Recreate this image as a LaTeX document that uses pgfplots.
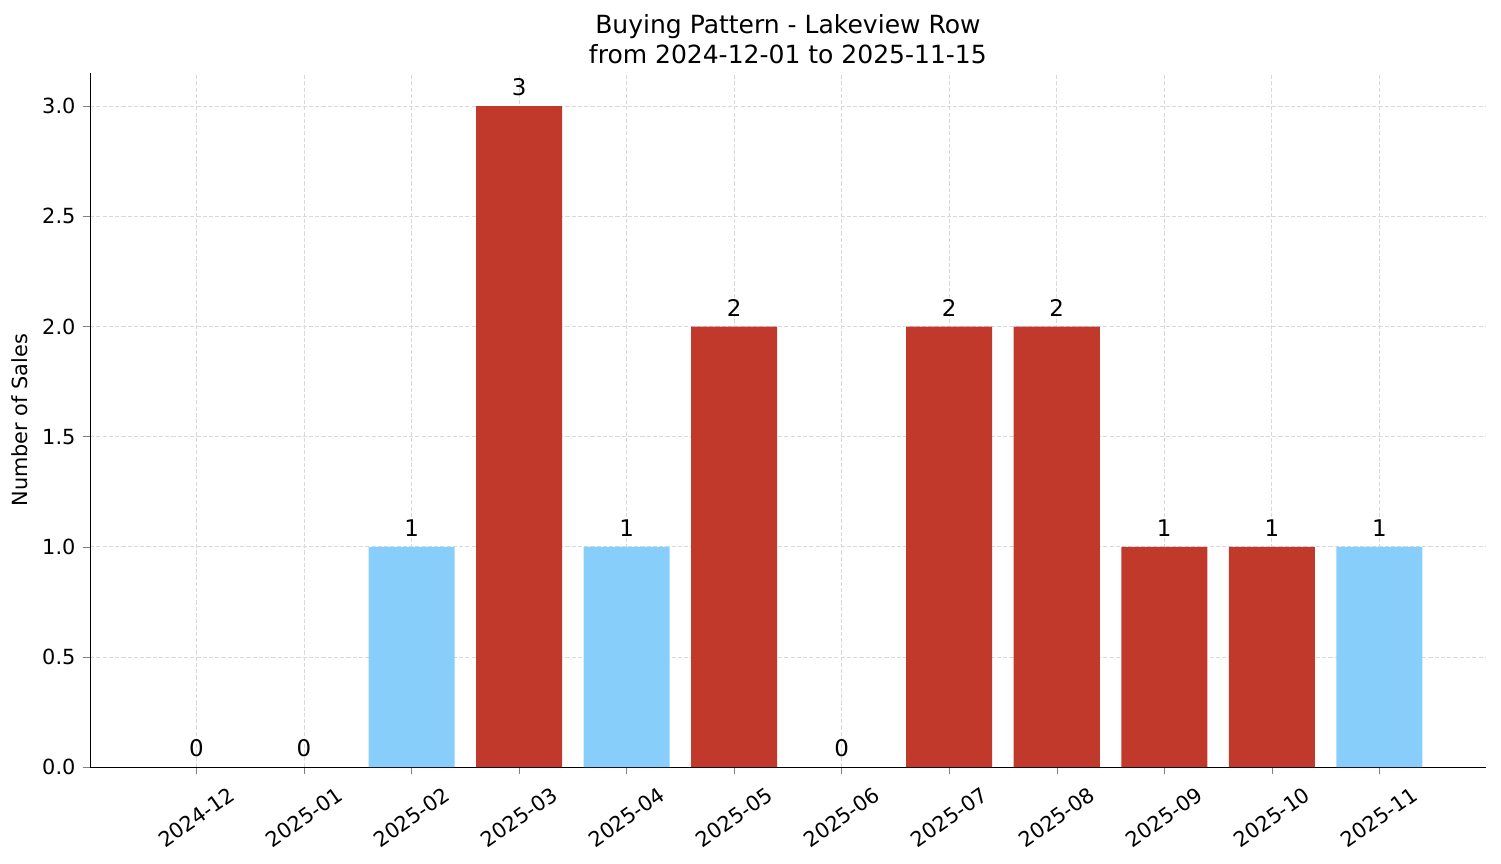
\documentclass[border=0pt]{standalone}
\usepackage{fontspec}
\setmainfont{DejaVu Sans}
\usepackage{pgfplots}
\usepackage{pgfplotstable}
\pgfplotsset{compat=1.18}
\definecolor{barred}{HTML}{C0392B}
\definecolor{barblue}{HTML}{87CEFA}
\definecolor{gridgray}{HTML}{D9D9D9}

% month index, sales
\pgfplotstableread{
x y
3 3
5 2
7 2
8 2
9 1
10 1
}\redtable
\pgfplotstableread{
x y
2 1
4 1
11 1
}\bluetable
\pgfplotstableread{
x y
0 0
1 0
6 0
}\zerotable

\begin{document}
\begin{tikzpicture}
\path[use as bounding box] (0,0) rectangle (720pt,414pt);
\begin{axis}[
  at={(43.2pt,46pt)}, anchor=south west,
  scale only axis,
  width=669.5pt, height=332.9pt,
  xmin=-0.99, xmax=11.99,
  ymin=0, ymax=3.15,
  ybar, bar width=0.8, bar shift=0pt,
  axis x line*=bottom, axis y line*=left,
  x axis line style={-}, y axis line style={-},
  tick align=outside, major tick length=3.5pt,
  xtick={0,...,11},
  xticklabels={2024-12,2025-01,2025-02,2025-03,2025-04,2025-05,2025-06,2025-07,2025-08,2025-09,2025-10,2025-11},
  ytick={0,0.5,...,3},
  yticklabel style={/pgf/number format/.cd, fixed, fixed zerofill, precision=1},
  /pgf/number format/assume math mode=true,
  ticklabel style={font=\fontsize{10}{12}\selectfont},
  % shifts are in the rotated frame
  x tick label style={rotate=35, anchor=center, xshift=-11.8pt, yshift=-16.8pt},
  grid=major,
  major grid style={dash pattern=on 2pt off 1pt, gridgray, line width=0.4pt},
  ylabel={Number of Sales},
  ylabel style={font=\fontsize{10}{12}\selectfont},
  title={Buying Pattern - Lakeview Row\\from 2024-12-01 to 2025-11-15},
  title style={align=center, font=\fontsize{12}{14.5}\selectfont, yshift=-5pt},
  nodes near coords,
  every node near coord/.append style={font=\fontsize{11}{13}\selectfont, black, yshift=1.5pt},
]
\addplot[fill=barred, draw=none] table {\redtable};
\addplot[fill=barblue, draw=none] table {\bluetable};
\addplot[fill=none, draw=none] table {\zerotable};
\end{axis}
\end{tikzpicture}
\end{document}
